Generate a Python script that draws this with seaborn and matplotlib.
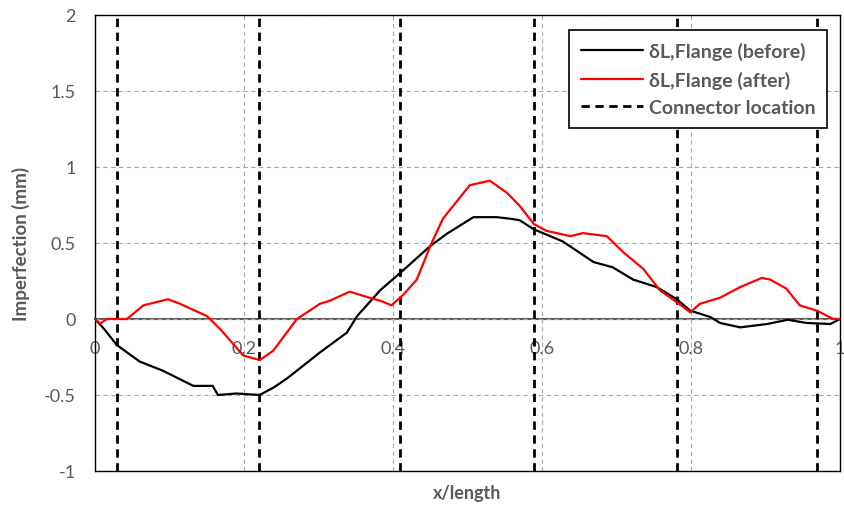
import numpy as np
import pandas as pd
import seaborn as sns
import matplotlib.pyplot as plt

# imperfection along the flange
x_before = [0, 0.013, 0.029, 0.06, 0.091, 0.132, 0.158, 0.165, 0.19, 0.221, 0.24, 0.258, 0.302, 0.338,
            0.352, 0.383, 0.409, 0.45, 0.472, 0.508, 0.539, 0.557, 0.570, 0.589, 0.628, 0.669, 0.695,
            0.722, 0.754, 0.781, 0.799, 0.826, 0.839, 0.866, 0.902, 0.930, 0.955, 0.987, 1.0]
y_before = [0, -0.07, -0.17, -0.28, -0.34, -0.44, -0.44, -0.50, -0.49, -0.50, -0.45, -0.39, -0.22, -0.09,
            0.02, 0.19, 0.30, 0.48, 0.56, 0.67, 0.67, 0.66, 0.65, 0.59, 0.51, 0.375, 0.34,
            0.26, 0.21, 0.13, 0.055, 0.013, -0.026, -0.055, -0.033, -0.005, -0.026, -0.033, 0]

x_after = [0, 0.007, 0.016, 0.043, 0.065, 0.098, 0.114, 0.15, 0.168, 0.199, 0.221, 0.239, 0.271, 0.302,
           0.315, 0.342, 0.365, 0.383, 0.398, 0.414, 0.432, 0.45, 0.467, 0.503, 0.530, 0.553, 0.570,
           0.589, 0.606, 0.638, 0.655, 0.687, 0.709, 0.736, 0.758, 0.781, 0.799, 0.812, 0.839, 0.866,
           0.895, 0.906, 0.928, 0.946, 0.969, 0.991, 1.0]
y_after = [0, -0.03, 0, 0, 0.09, 0.13, 0.10, 0.02, -0.066, -0.24, -0.27, -0.21, 0, 0.10,
           0.12, 0.18, 0.145, 0.12, 0.09, 0.16, 0.26, 0.48, 0.66, 0.88, 0.91, 0.83, 0.745,
           0.625, 0.58, 0.545, 0.565, 0.545, 0.44, 0.33, 0.19, 0.11, 0.044, 0.10, 0.14, 0.21,
           0.27, 0.26, 0.20, 0.09, 0.055, 0, 0]

connectors = [0.030, 0.220, 0.410, 0.589, 0.781, 0.969]
x_ticks = [0, 0.2, 0.4, 0.6, 0.8, 1]
x_tick_labels = ['0', '0.2', '0.4', '0.6', '0.8', '1']
y_ticks = [-1, -0.5, 0, 0.5, 1, 1.5, 2]
y_tick_labels = ['-1', '-0.5', '0', '0.5', '1', '1.5', '2']

grey = '#595959'

sns.set_style('white')
plt.rcParams['font.family'] = ['Lato', 'DejaVu Sans']

df_b = pd.DataFrame({'x': x_before, 'y': y_before})
df_a = pd.DataFrame({'x': x_after, 'y': y_after})

fig = plt.figure(figsize=(8.45, 5.10), dpi=100)
ax = fig.add_axes([95 / 845, 1 - 472 / 510, 745 / 845, 456 / 510])

ax.set_xlim(0, 1)
ax.set_ylim(-1, 2)
ax.set_xticks(x_ticks)
ax.set_yticks(y_ticks)
ax.set_yticklabels(y_tick_labels)
ax.set_xticklabels([])
ax.grid(True, color='#a6a6a6', linestyle=(0, (4, 3)), linewidth=0.8)
ax.set_axisbelow(True)
ax.tick_params(axis='both', length=0)
ax.tick_params(axis='y', labelsize=13, labelcolor=grey, pad=14)
for s in ax.spines.values():
    s.set_color('#000000')
    s.set_linewidth(1.0)

sns.lineplot(data=df_b, x='x', y='y', color='black', linewidth=1.6, ax=ax,
             label='δL,Flange (before)', zorder=4)
sns.lineplot(data=df_a, x='x', y='y', color='#ff0000', linewidth=1.6, ax=ax,
             label='δL,Flange (after)', zorder=5)
for i, c in enumerate(connectors):
    ax.axvline(c, color='black', linewidth=2.0, dashes=(3, 2),
               label='Connector location' if i == 0 else None, zorder=3)

# x axis crosses at y = 0 (Excel style)
sec = ax.secondary_xaxis(1 / 3)
sec.set_xticks(x_ticks)
sec.set_xticklabels(x_tick_labels)
sec.tick_params(length=0, labelsize=13, labelcolor=grey, pad=15)
sec.spines['bottom'].set_color(grey)
sec.spines['bottom'].set_linewidth(1.5)

ax.set_xlabel('x/length', fontsize=13, fontweight='bold', color=grey, labelpad=6)
ax.set_ylabel('Imperfection (mm)', fontsize=13.5, fontweight='bold', color=grey, labelpad=10)

leg = ax.legend(loc='upper right', bbox_to_anchor=(0.983, 0.967), fontsize=14,
                frameon=True, fancybox=False, edgecolor='black', framealpha=1,
                handlelength=3.2, handletextpad=0.3, borderpad=0.6, labelspacing=0.55,
                borderaxespad=0)
leg.set_zorder(10)
leg.get_frame().set_linewidth(1.2)
for t in leg.get_texts():
    t.set_color(grey)
    t.set_fontweight('bold')

fig.savefig('out.png', dpi=100)
